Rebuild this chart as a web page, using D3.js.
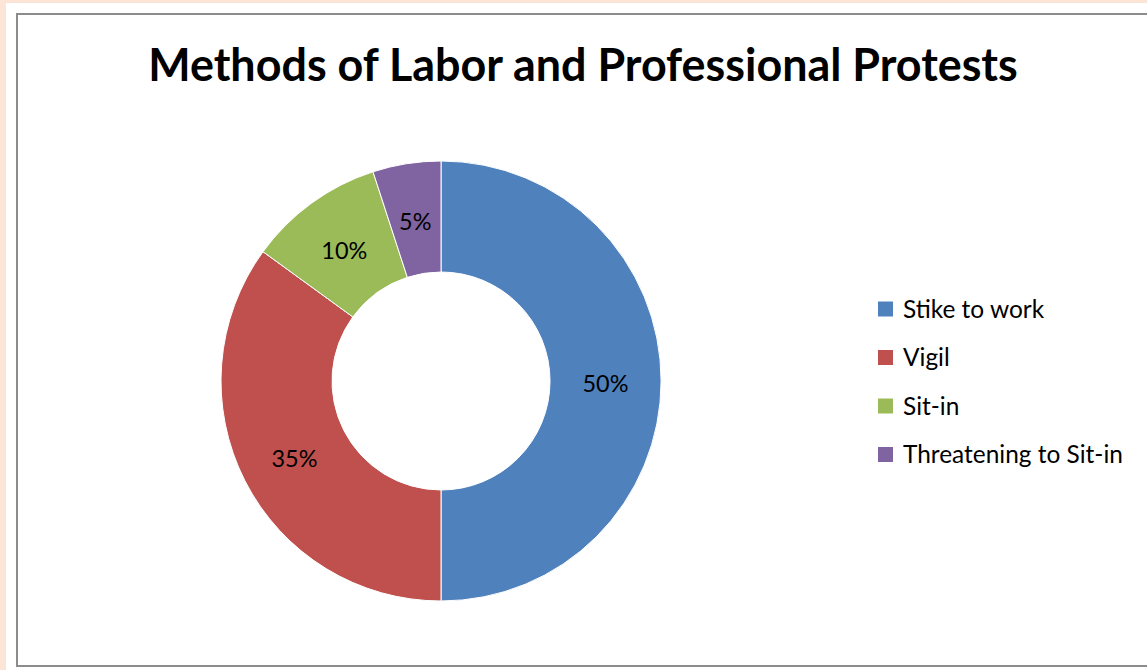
<!DOCTYPE html>
<html><head><meta charset="utf-8">
<script src="https://cdn.jsdelivr.net/npm/d3@7"></script>
<style>html,body{margin:0;padding:0;background:#fff;}svg{display:block;}</style>
</head><body>
<script>
const categories = ["Stike to work", "Vigil", "Sit-in", "Threatening to Sit-in"];
const values = [50, 35, 10, 5];
const colors = ["#4F81BD", "#C0504D", "#9BBB59", "#8064A2"];
const title = "Methods of Labor and Professional Protests";

const W = 1147, H = 670;
const font = "Lato, 'Open Sans', sans-serif";
const svg = d3.select("body").append("svg").attr("width", W).attr("height", H);

// page background
svg.append("rect").attr("width", W).attr("height", H).attr("fill", "#FCE4D6");
svg.append("rect").attr("x", 6).attr("y", 3).attr("width", W).attr("height", H).attr("fill", "#fff");
// chart frame
svg.append("rect").attr("x", 17).attr("y", 14).attr("width", 1160).attr("height", 652)
  .attr("fill", "#fff").attr("stroke", "#8c8c8c").attr("stroke-width", 2);

function fit(sel, target, size) {
  sel.attr("font-size", size);
  const w = sel.node().getComputedTextLength();
  sel.attr("font-size", size * target / w);
}

// title
const t = svg.append("text").attr("x", 583).attr("y", 81).attr("text-anchor", "middle")
  .attr("font-family", font).attr("font-weight", "bold").attr("fill", "#000").text(title);
fit(t, 870, 40);

// donut
const cx = 441, cy = 381, rOut = 220, rIn = 109;
const pie = d3.pie().sort(null).value(d => d.v);
const data = pie(categories.map((c, i) => ({c, v: values[i], col: colors[i]})));
const arc = d3.arc().innerRadius(rIn).outerRadius(rOut);
const g = svg.append("g").attr("transform", `translate(${cx},${cy})`);
g.selectAll("path").data(data).join("path")
  .attr("d", arc).attr("fill", d => d.data.col).attr("stroke", "#fff").attr("stroke-width", 1);

const labelArc = d3.arc().innerRadius((rIn + rOut) / 2).outerRadius((rIn + rOut) / 2);
const total = d3.sum(values);
const labels = g.selectAll("text.lbl").data(data).join("text").attr("class", "lbl")
  .attr("transform", d => { const c = labelArc.centroid(d); return `translate(${c[0]},${c[1] + 3})`; })
  .attr("text-anchor", "middle").attr("dy", "0.35em")
  .attr("font-family", font).attr("fill", "#000")
  .text(d => Math.round(d.data.v / total * 100) + "%");
const first = labels.filter((d, i) => i === 0);
first.attr("font-size", 20);
const fw = first.node().getComputedTextLength();
labels.attr("font-size", 20 * 46 / fw);

// legend
const leg = svg.append("g");
const rows = leg.selectAll("g").data(categories).join("g")
  .attr("transform", (d, i) => `translate(878, ${309 + i * 48.5})`);
rows.append("rect").attr("x", 0).attr("y", -7.5).attr("width", 15).attr("height", 15)
  .attr("fill", (d, i) => colors[i]);
const lt = rows.append("text").attr("x", 25).attr("dy", "0.36em")
  .attr("font-family", font).attr("fill", "#000").text(d => d);
const last = lt.filter((d, i) => i === 3);
last.attr("font-size", 22);
const lw = last.node().getComputedTextLength();
lt.attr("font-size", 22 * 220 / lw);
</script>
</body></html>
